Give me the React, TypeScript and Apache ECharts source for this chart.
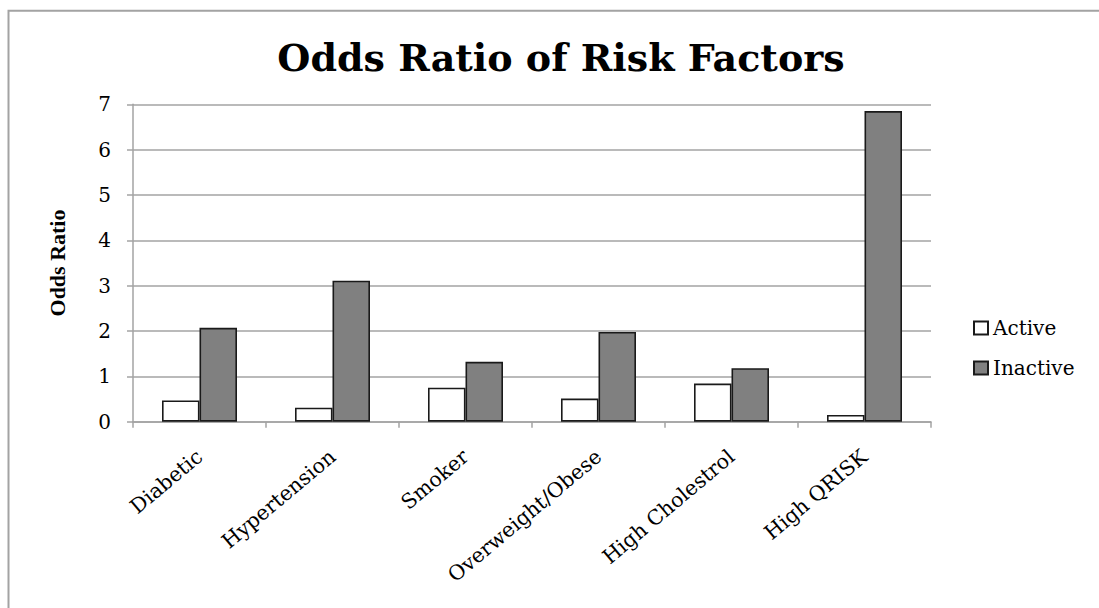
import React, { useEffect, useRef } from "react";
import * as echarts from "echarts";

const categories = ["Diabetic", "Hypertension", "Smoker", "Overweight/Obese", "High Cholestrol", "High QRISK"];
const activeValues = [0.47, 0.31, 0.75, 0.51, 0.84, 0.15];
const inactiveValues = [2.07, 3.11, 1.32, 1.98, 1.18, 6.85];
const seriesNames = ["Active", "Inactive"];

export default function App() {
  const ref = useRef<HTMLDivElement>(null);
  useEffect(() => {
    if (!ref.current) return;
    const chart = echarts.init(ref.current, null, { renderer: "svg" });
    const gray = "#a3a3a3";
    const serif = "DejaVu Serif";
    chart.setOption({
      animation: false,
      backgroundColor: "#ffffff",
      title: {
        text: "Odds Ratio of Risk Factors",
        left: 561,
        top: 38,
        padding: 0,
        textAlign: "center",
        textStyle: { fontFamily: serif, fontWeight: "bold", fontSize: 38, color: "#000" },
      },
      graphic: [
        {
          type: "rect",
          shape: { x: 8.5, y: 10.8, width: 2000, height: 2000 },
          style: { fill: "none", stroke: gray, lineWidth: 2 },
          silent: true,
        },
      ],
      legend: {
        orient: "vertical",
        left: 973,
        top: 318,
        padding: 0,
        itemWidth: 14,
        itemHeight: 13,
        itemGap: 20,
        icon: "rect",
        textStyle: { fontFamily: serif, fontSize: 20, color: "#000", lineHeight: 20 },
        data: seriesNames,
      },
      grid: { left: 133, right: 168, top: 104.3, bottom: 186.3, containLabel: false },
      xAxis: {
        type: "category",
        data: categories,
        axisLine: { show: true, lineStyle: { color: gray, width: 1.5 } },
        axisTick: { show: true, length: 6, interval: 0, lineStyle: { color: gray, width: 1.5 } },
        axisLabel: {
          interval: 0,
          rotate: 40,
          margin: 32,
          fontFamily: serif,
          fontSize: 20.5,
          color: "#000",
        },
      },
      yAxis: {
        type: "value",
        min: 0,
        max: 7,
        interval: 1,
        name: "Odds Ratio",
        nameLocation: "middle",
        nameRotate: 90,
        nameGap: 65,
        nameTextStyle: { fontFamily: "Liberation Serif", fontWeight: "bold", fontSize: 22, color: "#000" },
        axisLine: { show: true, lineStyle: { color: gray, width: 1.5 } },
        axisTick: { show: true, length: 6, lineStyle: { color: gray, width: 1.5 } },
        splitLine: { show: true, lineStyle: { color: gray, width: 1.5 } },
        axisLabel: { margin: 22, fontFamily: serif, fontSize: 20, color: "#000" },
      },
      series: [
        {
          name: seriesNames[0],
          type: "bar",
          data: activeValues,
          barWidth: 37.5,
          barGap: "0%",
          itemStyle: { color: "#ffffff", borderColor: "#1a1a1a", borderWidth: 1.6 },
        },
        {
          name: seriesNames[1],
          type: "bar",
          data: inactiveValues,
          barWidth: 37.5,
          barGap: "0%",
          itemStyle: { color: "#808080", borderColor: "#1a1a1a", borderWidth: 1.6 },
        },
      ],
    });
    return () => chart.dispose();
  }, []);
  return (
    <div
      ref={ref}
      style={{ position: "absolute", left: 0, top: 0, width: 1099, height: 608 }}
    />
  );
}
